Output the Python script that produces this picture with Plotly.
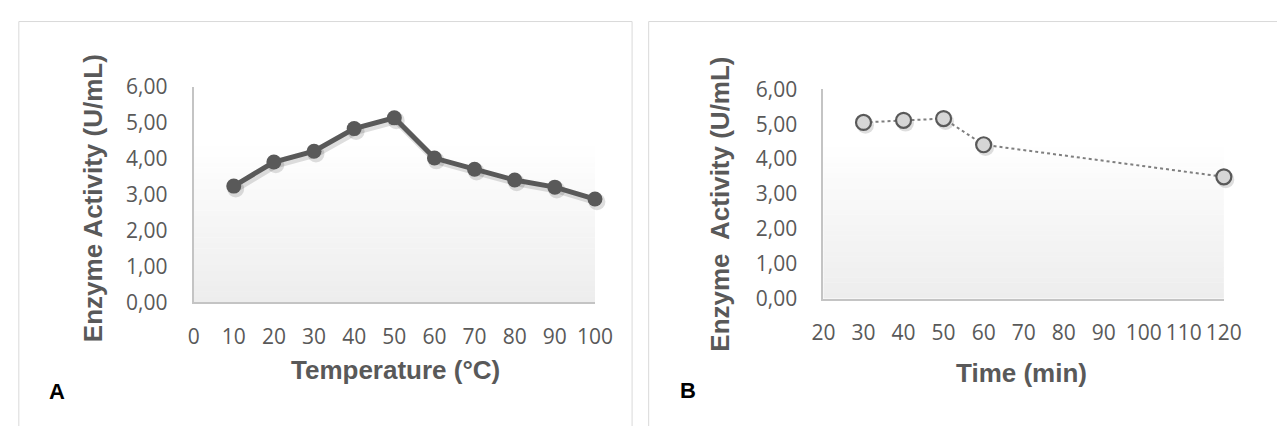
import plotly.graph_objects as go

# ---- data ----
temperature_c = [10, 20, 30, 40, 50, 60, 70, 80, 90, 100]
activity_temp = [3.24, 3.91, 4.21, 4.84, 5.14, 4.02, 3.71, 3.41, 3.21, 2.88]

time_min = [30, 40, 50, 60, 120]
activity_time = [5.05, 5.11, 5.16, 4.41, 3.49]

x_ticks_a = [0, 10, 20, 30, 40, 50, 60, 70, 80, 90, 100]
x_ticks_b = [20, 30, 40, 50, 60, 70, 80, 90, 100, 110, 120]
y_ticks = [0, 1, 2, 3, 4, 5, 6]

W, H = 1277, 426
def px(x):
    return x / W
def py(y):
    return 1 - y / H

GRAY_TXT = "#595959"
AXIS_LINE = "#c4c4c4"
TICK_FONT = dict(family="Open Sans", size=21, color=GRAY_TXT)
TITLE_FONT = dict(family="Liberation Sans", size=26, color=GRAY_TXT)

# plot-area boxes in pixels (left, right, bottom, top)
BOX_A = (186, 597, 307.7, 77)
BOX_B = (831, 1241, 303.5, 79.5)
SH_DX, SH_DY = 2, 3  # soft shadow offset (px)

fig = go.Figure()

# shadows (drawn first, on hidden axes offset by a few pixels)
fig.add_trace(go.Scatter(
    x=temperature_c, y=activity_temp, mode="lines+markers",
    line=dict(color="rgba(0,0,0,0.13)", width=7),
    marker=dict(size=17, color="rgba(0,0,0,0.13)"),
    xaxis="x", yaxis="y", showlegend=False, hoverinfo="skip", cliponaxis=False))
fig.add_trace(go.Scatter(
    x=time_min, y=activity_time, mode="markers",
    marker=dict(size=17, color="rgba(0,0,0,0.13)"),
    xaxis="x2", yaxis="y2", showlegend=False, hoverinfo="skip", cliponaxis=False))

# main series
fig.add_trace(go.Scatter(
    x=temperature_c, y=activity_temp, mode="lines+markers",
    line=dict(color="#595959", width=5),
    marker=dict(size=15, color="#595959"),
    xaxis="x3", yaxis="y3", showlegend=False, cliponaxis=False))
fig.add_trace(go.Scatter(
    x=time_min, y=activity_time, mode="lines+markers",
    line=dict(color="#7f7f7f", width=2, dash="dot"),
    marker=dict(size=15, color="#d6d6d6", line=dict(color="#595959", width=2.2)),
    xaxis="x4", yaxis="y4", showlegend=False, cliponaxis=False))

axis_common = dict(showgrid=False, zeroline=False, showline=True, linecolor=AXIS_LINE,
                   linewidth=2, tickfont=TICK_FONT, ticks="outside",
                   tickcolor="rgba(0,0,0,0)", fixedrange=True)
hidden = dict(visible=False, fixedrange=True)

def xdom(box, dx=0):
    return [px(box[0] + dx), px(box[1] + dx)]
def ydom(box, dy=0):
    return [py(box[2] + dy), py(box[3] + dy)]

fig.update_layout(
    width=W, height=H, autosize=False,
    margin=dict(l=0, r=0, t=0, b=0),
    paper_bgcolor="white", plot_bgcolor="rgba(0,0,0,0)",
    separators=", ",
    xaxis=dict(domain=xdom(BOX_A, SH_DX), range=[0, 100], anchor="y", **hidden),
    yaxis=dict(domain=ydom(BOX_A, SH_DY), range=[0, 6], anchor="x", **hidden),
    xaxis2=dict(domain=xdom(BOX_B, SH_DX), range=[20, 120], anchor="y2", **hidden),
    yaxis2=dict(domain=ydom(BOX_B, SH_DY), range=[0, 6], anchor="x2", **hidden),
    xaxis3=dict(domain=xdom(BOX_A), range=[0, 100], tickvals=x_ticks_a,
                ticklen=14, anchor="y3", **axis_common),
    yaxis3=dict(domain=ydom(BOX_A), range=[0, 6], tickvals=y_ticks,
                tickformat=".2f", ticklen=20, anchor="x3", **axis_common),
    xaxis4=dict(domain=xdom(BOX_B), range=[20, 120], tickvals=x_ticks_b,
                ticklen=14, anchor="y4", **axis_common),
    yaxis4=dict(domain=ydom(BOX_B), range=[0, 6], tickvals=y_ticks,
                tickformat=".2f", ticklen=20, anchor="x4", **axis_common),
)

# gradient plot-area fill (styling only)
shapes = []
N = 40
for ax_x, ax_y in (("x3", "y3"), ("x4", "y4")):
    for i in range(N):
        t0 = i / N
        t1 = (i + 1) / N
        frac_from_top = 1 - (t0 + t1) / 2
        level = 0 if frac_from_top < 0.25 else (frac_from_top - 0.25) / 0.75
        c = int(round(255 - 18 * level))
        shapes.append(dict(type="rect", xref=f"{ax_x} domain", yref=f"{ax_y} domain",
                           x0=0, x1=1, y0=t0, y1=t1 + 0.002, layer="below",
                           line=dict(width=0), fillcolor=f"rgb({c},{c},{c})"))

# panel borders
shapes.append(dict(type="rect", xref="paper", yref="paper", x0=px(7), x1=px(635),
                   y0=-0.1, y1=py(7), line=dict(color="#d9d9d9", width=1), layer="below"))
shapes.append(dict(type="rect", xref="paper", yref="paper", x0=px(652), x1=1.1,
                   y0=-0.1, y1=py(7), line=dict(color="#d9d9d9", width=1), layer="below"))
fig.update_layout(shapes=shapes)

annotations = [
    dict(text="<b>Temperature (°C)</b>", x=px(393), y=py(380), font=TITLE_FONT),
    dict(text="<b>Time (min)</b>", x=px(1034), y=py(383), font=TITLE_FONT),
    dict(text="<b>Enzyme Activity (U/mL)</b>", x=px(83), y=py(196), font=TITLE_FONT,
         textangle=-90),
    dict(text="<b>Enzyme\u00a0 Activity (U/mL)</b>", x=px(725), y=py(202), font=TITLE_FONT,
         textangle=-90),
    dict(text="<b>A</b>", x=px(46), y=py(403),
         font=dict(family="Liberation Sans", size=22, color="black")),
    dict(text="<b>B</b>", x=px(692), y=py(402),
         font=dict(family="Liberation Sans", size=22, color="black")),
]
for a in annotations:
    a.update(xref="paper", yref="paper", showarrow=False, xanchor="center", yanchor="middle")
fig.update_layout(annotations=annotations)

fig.write_html("out.html", config={"displayModeBar": False},
               post_script="document.body.style.margin='0';document.body.style.overflow='hidden';")
